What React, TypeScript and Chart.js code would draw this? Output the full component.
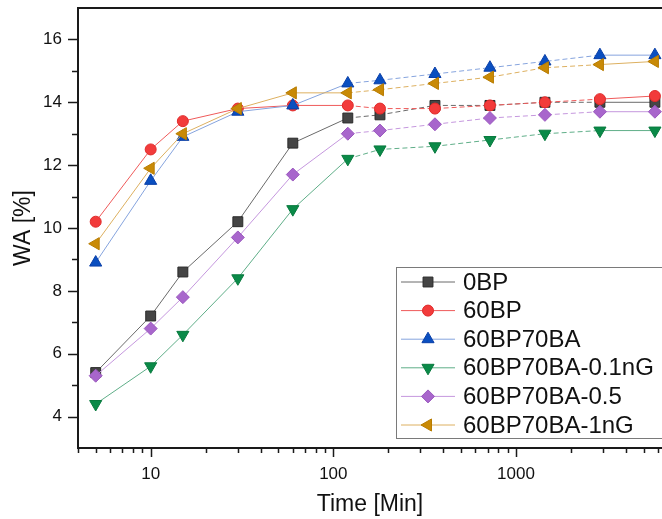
import React, { useEffect, useRef } from 'react';
import { Chart, registerables } from 'chart.js';
import { drawPoint } from 'chart.js/helpers';

Chart.register(...registerables);

// ---- data ----
const times = [5, 10, 15, 30, 60, 120, 180, 360, 720, 1440, 2880, 5760];
const seriesNames = ['0BP', '60BP', '60BP70BA', '60BP70BA-0.1nG', '60BP70BA-0.5', '60BP70BA-1nG'];
const wa0BP = [5.4, 7.2, 8.6, 10.2, 12.7, 13.5, 13.6, 13.9, 13.9, 14.0, 14.0, 14.0];
const wa60BP = [10.2, 12.5, 13.4, 13.8, 13.9, 13.9, 13.8, 13.8, 13.9, 14.0, 14.1, 14.2];
const wa60BP70BA = [8.9, 11.5, 12.9, 13.7, 13.9, 14.6, 14.7, 14.9, 15.1, 15.3, 15.5, 15.5];
const wa60BP70BA_01nG = [4.4, 5.6, 6.6, 8.4, 10.6, 12.2, 12.5, 12.6, 12.8, 13.0, 13.1, 13.1];
const wa60BP70BA_05 = [5.3, 6.8, 7.8, 9.7, 11.7, 13.0, 13.1, 13.3, 13.5, 13.6, 13.7, 13.7];
const wa60BP70BA_1nG = [9.5, 11.9, 13.0, 13.8, 14.3, 14.3, 14.4, 14.6, 14.8, 15.1, 15.2, 15.3];
const seriesValues = [wa0BP, wa60BP, wa60BP70BA, wa60BP70BA_01nG, wa60BP70BA_05, wa60BP70BA_1nG];

const xTickLabels = [10, 100, 1000];
const yTickLabels = [4, 6, 8, 10, 12, 14, 16];
const yMinorTicks = [5, 7, 9, 11, 13, 15];

// ---- styles ----
const styles = [
  { line: '#6a6a6a', fill: '#454545', stroke: '#2a2a2a', pointStyle: 'rect', radius: 7, rotation: 0 },
  { line: '#ef5a5a', fill: '#f23b3b', stroke: '#e02a2a', pointStyle: 'circle', radius: 5.5, rotation: 0 },
  { line: '#86a4de', fill: '#0a4fc0', stroke: '#0a3fa8', pointStyle: 'triangle', radius: 7, rotation: 0 },
  { line: '#5fae88', fill: '#0a8a48', stroke: '#087a3e', pointStyle: 'triangle', radius: 7, rotation: 180 },
  { line: '#c597de', fill: '#a866cc', stroke: '#9a58be', pointStyle: 'rectRot', radius: 6.5, rotation: 0 },
  { line: '#ddb060', fill: '#c98a06', stroke: '#b87c00', pointStyle: 'triangle', radius: 7, rotation: -90 },
];

const FONT = 'Arial, "Liberation Sans", sans-serif';
const AXIS_COLOR = '#1a1a1a';

const framePlugin = {
  id: 'frame',
  afterDraw(chart: any) {
    const { ctx, chartArea } = chart;
    const { left, right, top, bottom } = chartArea;
    const x = chart.scales.x;
    const y = chart.scales.y;
    ctx.save();
    ctx.strokeStyle = AXIS_COLOR;
    ctx.lineWidth = 2;
    ctx.beginPath();
    ctx.moveTo(left, top);
    ctx.lineTo(right + 2, top);
    ctx.moveTo(left, top - 1);
    ctx.lineTo(left, bottom + 1);
    ctx.moveTo(left - 1, bottom);
    ctx.lineTo(right + 2, bottom);
    ctx.stroke();
    ctx.lineWidth = 1.5;
    ctx.beginPath();
    for (const t of x.ticks) {
      const px = Math.round(x.getPixelForValue(t.value)) + 0.5;
      const len = xTickLabels.includes(t.value) ? 9 : 5;
      ctx.moveTo(px, bottom);
      ctx.lineTo(px, bottom + len);
    }
    for (const v of yTickLabels) {
      const py = Math.round(y.getPixelForValue(v)) + 0.5;
      ctx.moveTo(left, py);
      ctx.lineTo(left - 10, py);
    }
    for (const v of yMinorTicks) {
      const py = Math.round(y.getPixelForValue(v)) + 0.5;
      ctx.moveTo(left, py);
      ctx.lineTo(left - 6, py);
    }
    ctx.stroke();

    // legend
    const bx = 396.5, by = 267.5, bw = 280, bh = 171;
    ctx.fillStyle = '#ffffff';
    ctx.fillRect(bx, by, bw, bh);
    ctx.strokeStyle = '#7a7a7a';
    ctx.lineWidth = 1;
    ctx.strokeRect(bx, by, bw, bh);
    ctx.font = `24px ${FONT}`;
    ctx.textBaseline = 'middle';
    ctx.textAlign = 'left';
    seriesNames.forEach((name, i) => {
      const st = styles[i];
      const cy = 282 + i * 28.6;
      ctx.strokeStyle = st.line;
      ctx.lineWidth = 1;
      ctx.beginPath();
      ctx.moveTo(401, cy);
      ctx.lineTo(455, cy);
      ctx.stroke();
      ctx.fillStyle = st.fill;
      ctx.strokeStyle = st.stroke;
      drawPoint(ctx, { pointStyle: st.pointStyle, rotation: st.rotation, radius: st.radius, borderWidth: 1 }, 428, cy);
      ctx.fillStyle = '#111';
      ctx.fillText(name, 463, cy + 1);
    });
    ctx.restore();
  },
};

export default function App() {
  const ref = useRef<HTMLCanvasElement | null>(null);
  useEffect(() => {
    if (!ref.current) return;
    const chart = new Chart(ref.current, {
      type: 'line',
      data: {
        datasets: seriesNames.map((name, i) => ({
          label: name,
          data: times.map((t, j) => ({ x: t, y: seriesValues[i][j] })),
          borderColor: styles[i].line,
          borderWidth: 1,
          backgroundColor: styles[i].fill,
          pointBackgroundColor: styles[i].fill,
          pointBorderColor: styles[i].stroke,
          pointBorderWidth: 1,
          pointStyle: styles[i].pointStyle as any,
          pointRotation: styles[i].rotation,
          pointRadius: styles[i].radius,
          pointHoverRadius: styles[i].radius,
          tension: 0,
          fill: false,
          clip: false,
          order: seriesNames.length - 1 - i,
          segment: {
            borderDash: (c: any) => (c.p0DataIndex >= 5 && c.p0DataIndex <= 9 ? [5, 3] : undefined),
          },
        })),
      },
      options: {
        animation: false,
        responsive: false,
        devicePixelRatio: 1,
        layout: { autoPadding: false, padding: { top: 8, left: 0, right: 0, bottom: 0 } },
        plugins: { legend: { display: false }, tooltip: { enabled: false } },
        scales: {
          x: {
            type: 'logarithmic',
            min: 4,
            max: 6300,
            grid: { display: false, drawTicks: false },
            border: { display: false },
            afterBuildTicks: (scale: any) => {
              const ticks: any[] = [];
              for (const d of [1, 10, 100, 1000]) {
                for (let m = 1; m <= 9; m++) {
                  const v = m * d;
                  if (v >= 4 && v <= 6300) ticks.push({ value: v });
                }
              }
              scale.ticks = ticks;
            },
            afterFit: (scale: any) => {
              scale.height = 71;
              scale.paddingLeft = 0;
              scale.paddingRight = 0;
              scale.paddingTop = 0;
              scale.paddingBottom = 0;
            },
            ticks: {
              autoSkip: false,
              maxRotation: 0,
              minRotation: 0,
              padding: 16,
              color: '#111',
              font: { family: FONT, size: 17 },
              callback: (v: any) => (xTickLabels.includes(Number(v)) ? String(v) : ''),
            },
            title: {
              display: true,
              text: 'Time [Min]',
              color: '#111',
              font: { family: FONT, size: 23 },
              padding: { top: 0, bottom: 1 },
            },
          },
          y: {
            type: 'linear',
            min: 3,
            max: 17,
            grid: { display: false, drawTicks: false },
            border: { display: false },
            afterBuildTicks: (scale: any) => {
              scale.ticks = yTickLabels.map((v) => ({ value: v }));
            },
            afterFit: (scale: any) => {
              scale.width = 78;
              scale.paddingLeft = 0;
              scale.paddingRight = 0;
              scale.paddingTop = 0;
              scale.paddingBottom = 0;
            },
            ticks: {
              autoSkip: false,
              padding: 16,
              color: '#111',
              font: { family: FONT, size: 17 },
              callback: (v: any) => String(v),
            },
            title: {
              display: true,
              text: 'WA [%]',
              color: '#111',
              font: { family: FONT, size: 23 },
              padding: { top: 10, bottom: 0 },
            },
          },
        },
      },
      plugins: [framePlugin],
    } as any);
    return () => chart.destroy();
  }, []);
  return (
    <div style={{ position: 'fixed', left: 0, top: 0, width: 662, height: 519, background: '#fff' }}>
      <canvas ref={ref} width={662} height={519} style={{ display: 'block' }} />
    </div>
  );
}
